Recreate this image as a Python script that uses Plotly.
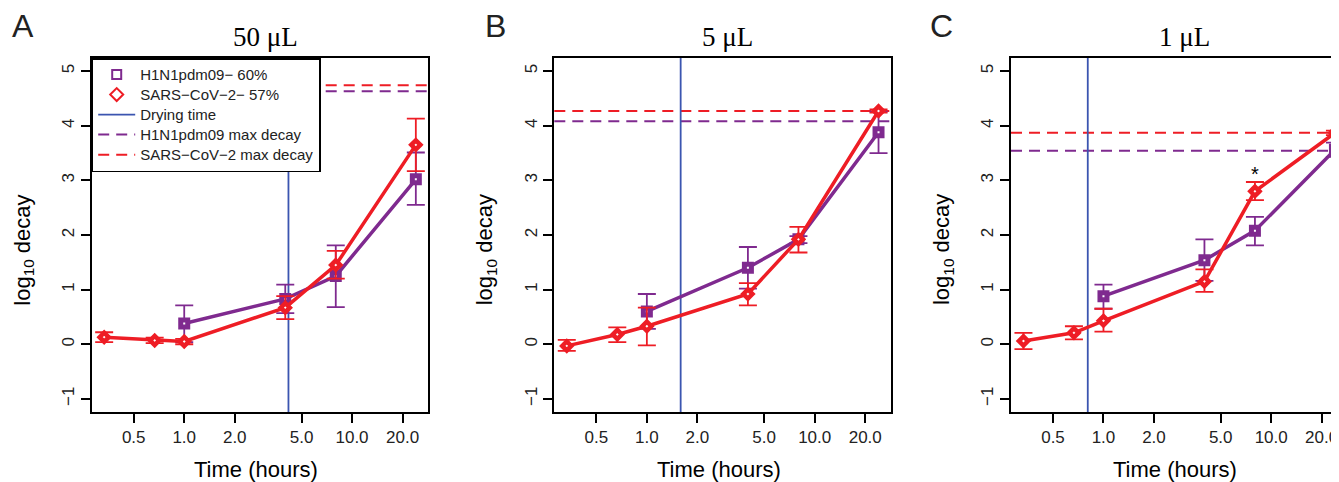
import numpy as np
import plotly.graph_objects as go
from plotly.subplots import make_subplots

# ---------------- data ----------------
panels = ["A", "B", "C"]
titles = ["50 μL", "5 μL", "1 μL"]

sars_t = [1/3, 2/3, 1.0, 4.0, 8.0, 24.0]
flu_t = [1.0, 4.0, 8.0, 24.0]

# SARS-CoV-2 (red) mean, upper, lower per panel
sars_A = [0.13, 0.07, 0.05, 0.67, 1.45, 3.65]
sars_A_hi = [0.22, 0.12, 0.10, 0.88, 1.71, 4.13]
sars_A_lo = [0.04, 0.02, 0.00, 0.46, 1.20, 3.17]
sars_B = [-0.03, 0.18, 0.33, 0.92, 1.92, 4.27]
sars_B_hi = [0.08, 0.31, 0.67, 1.12, 2.15, 4.30]
sars_B_lo = [-0.12, 0.04, -0.02, 0.71, 1.68, 4.24]
sars_C = [0.06, 0.21, 0.43, 1.15, 2.80, 3.87]
sars_C_hi = [0.21, 0.33, 0.65, 1.37, 2.97, 3.91]
sars_C_lo = [-0.09, 0.09, 0.23, 0.96, 2.64, 3.83]

# H1N1pdm09 (purple)
flu_A = [0.38, 0.83, 1.25, 3.02]
flu_A_hi = [0.71, 1.09, 1.81, 3.51]
flu_A_lo = [0.04, 0.57, 0.68, 2.55]
flu_B = [0.60, 1.40, 1.92, 3.88]
flu_B_hi = [0.92, 1.78, 1.98, 4.26]
flu_B_lo = [0.28, 1.02, 1.85, 3.50]
flu_C = [0.88, 1.54, 2.08, 3.56]
flu_C_hi = [1.09, 1.92, 2.33, 3.69]
flu_C_lo = [0.65, 1.16, 1.81, 3.43]

sars_max = [4.74, 4.27, 3.87]
flu_max = [4.63, 4.08, 3.54]
drying_time = [4.18, 1.59, 0.806]

star_t = 8.0
star_y = 3.12

legend_names = ["H1N1pdm09− 60%", "SARS−CoV−2− 57%", "Drying time",
                "H1N1pdm09 max decay", "SARS−CoV−2 max decay"]

x_tickvals = [0.5, 1, 2, 5, 10, 20]
x_ticktext = ["0.5", "1.0", "2.0", "5.0", "10.0", "20.0"]
y_tickvals = [-1, 0, 1, 2, 3, 4, 5]

sars_all = [(sars_A, sars_A_hi, sars_A_lo), (sars_B, sars_B_hi, sars_B_lo), (sars_C, sars_C_hi, sars_C_lo)]
flu_all = [(flu_A, flu_A_hi, flu_A_lo), (flu_B, flu_B_hi, flu_B_lo), (flu_C, flu_C_hi, flu_C_lo)]

# ---------------- style ----------------
OFF = 8  # page body margin offset of the plot div
WIN_W, WIN_H = 1339, 482
W, H = WIN_W - OFF, WIN_H - OFF
RED = "#EE1D25"
PURPLE = "#7F2A8F"
BLUE = "#3B55B0"
SANS = "Liberation Sans, Arial, sans-serif"
SERIF = "Liberation Serif, Times New Roman, serif"

# positions in window pixels, converted to figure pixels
top_px, bot_px = 58.3 - OFF, 411.7 - OFF
plot_h = bot_px - top_px
left_px = [91.7 - OFF, 554.3 - OFF, 1011.0 - OFF]
right_px = [428.3 - OFF, 891.0 - OFF, 1347.4 - OFF]

# R-style axis ranges (4% padding)
lx0, lx1 = np.log10(1/3), np.log10(24)
pad = 0.04 * (lx1 - lx0)
xr = [lx0 - pad, lx1 + pad]
yr = [-1 - 0.04 * 6, 5 + 0.04 * 6]

fig = make_subplots(rows=1, cols=3)

domains = []
for i in range(3):
    r = min(right_px[i], W)
    domains.append([left_px[i] / W, r / W])

for i in range(3):
    col = i + 1
    s, s_hi, s_lo = sars_all[i]
    f, f_hi, f_lo = flu_all[i]
    fig.add_trace(go.Scatter(
        x=flu_t, y=f, mode="lines+markers", showlegend=False,
        line=dict(color=PURPLE, width=3.5),
        marker=dict(symbol="square", size=7, color="white", line=dict(color=PURPLE, width=5)),
        error_y=dict(type="data", symmetric=False,
                     array=list(np.array(f_hi) - np.array(f)),
                     arrayminus=list(np.array(f) - np.array(f_lo)),
                     color=PURPLE, thickness=1.8, width=9),
        cliponaxis=True,
    ), row=1, col=col)
    fig.add_trace(go.Scatter(
        x=sars_t, y=s, mode="lines+markers", showlegend=False,
        line=dict(color=RED, width=3.5),
        marker=dict(symbol="diamond", size=7, color="white", line=dict(color=RED, width=4.5)),
        error_y=dict(type="data", symmetric=False,
                     array=list(np.array(s_hi) - np.array(s)),
                     arrayminus=list(np.array(s) - np.array(s_lo)),
                     color=RED, thickness=1.8, width=9),
        cliponaxis=True,
    ), row=1, col=col)


def lname(t):
    return f'<span style="font-size:15px">{t}</span>'


# legend-only entries (panel A)
fig.add_trace(go.Scatter(x=[None], y=[None], mode="markers", name=lname(legend_names[0]),
                         marker=dict(symbol="square-open", size=9, color=PURPLE, line=dict(width=2))), row=1, col=1)
fig.add_trace(go.Scatter(x=[None], y=[None], mode="markers", name=lname(legend_names[1]),
                         marker=dict(symbol="diamond-open", size=10, color=RED, line=dict(width=2))), row=1, col=1)
fig.add_trace(go.Scatter(x=[None], y=[None], mode="lines", name=lname(legend_names[2]),
                         line=dict(color=BLUE, width=1.8)), row=1, col=1)
fig.add_trace(go.Scatter(x=[None], y=[None], mode="lines", name=lname(legend_names[3]),
                         line=dict(color=PURPLE, width=2, dash="11px,7px")), row=1, col=1)
fig.add_trace(go.Scatter(x=[None], y=[None], mode="lines", name=lname(legend_names[4]),
                         line=dict(color=RED, width=2, dash="11px,7px")), row=1, col=1)

shapes = []
annotations = []
for i in range(3):
    xa = "x" if i == 0 else f"x{i+1}"
    ya = "y" if i == 0 else f"y{i+1}"
    xname = "xaxis" if i == 0 else f"xaxis{i+1}"
    yname = "yaxis" if i == 0 else f"yaxis{i+1}"
    this_xr = list(xr)
    if right_px[i] > W:
        px_per = (right_px[i] - left_px[i]) / (xr[1] - xr[0])
        this_xr[1] = xr[0] + (W - left_px[i]) / px_per
    fig.update_layout({
        xname: dict(domain=domains[i], type="log", range=this_xr,
                    tickvals=x_tickvals, ticktext=x_ticktext,
                    ticks="outside", ticklen=9, tickwidth=1.5, tickcolor="black",
                    showline=True, linecolor="black", linewidth=1.8, mirror=True,
                    showgrid=False, zeroline=False, ticklabeloverflow="allow",
                    tickfont=dict(family=SANS, size=17, color="#222")),
        yname: dict(range=yr, tickvals=y_tickvals, tickangle=-90,
                    ticks="outside", ticklen=9, tickwidth=1.5, tickcolor="black",
                    showline=True, linecolor="black", linewidth=1.8,
                    mirror=(right_px[i] <= W),
                    showgrid=False, zeroline=False,
                    tickfont=dict(family=SANS, size=17, color="#222")),
    })
    # max decay lines
    shapes.append(dict(type="line", xref=f"{xa} domain", yref=ya, x0=0, x1=1,
                       y0=flu_max[i], y1=flu_max[i], layer="below",
                       line=dict(color=PURPLE, width=2, dash="11px,7px")))
    shapes.append(dict(type="line", xref=f"{xa} domain", yref=ya, x0=0, x1=1,
                       y0=sars_max[i], y1=sars_max[i], layer="below",
                       line=dict(color=RED, width=2, dash="11px,7px")))
    # drying time
    shapes.append(dict(type="line", xref=xa, yref=f"{ya} domain",
                       x0=drying_time[i], x1=drying_time[i], y0=0, y1=1, layer="below",
                       line=dict(color=BLUE, width=1.8)))
    cx = (left_px[i] + right_px[i]) / 2 / W
    # panel title
    annotations.append(dict(text=titles[i], xref="paper", yref="paper",
                            x=cx + 5 / W, y=1 + (top_px - (37 - OFF)) / plot_h, xanchor="center", yanchor="middle",
                            showarrow=False, font=dict(family=SERIF, size=27, color="black")))
    # x title
    annotations.append(dict(text="Time (hours)", xref="paper", yref="paper",
                            x=cx - 4 / W, y=-((469 - OFF) - bot_px) / plot_h, xanchor="center", yanchor="middle",
                            showarrow=False, font=dict(family=SANS, size=22, color="black")))
    # y title
    annotations.append(dict(text="log<sub>10</sub> decay", xref="paper", yref="paper",
                            x=(left_px[i] - 68) / W, y=0.5 - 15 / plot_h, xanchor="center", yanchor="middle",
                            textangle=-90, showarrow=False,
                            font=dict(family=SANS, size=22, color="black")))

letter_x = [10 - OFF, 483 - OFF, 928 - OFF]
for i in range(3):
    annotations.append(dict(text=panels[i], xref="paper", yref="paper",
                            x=letter_x[i] / W, y=1 + (top_px - (26 - OFF)) / plot_h,
                            xanchor="left", yanchor="middle", showarrow=False,
                            font=dict(family=SANS, size=32, color="#222")))

# asterisk panel C
annotations.append(dict(text="*", xref="x3", yref="y3", x=np.log10(star_t), y=star_y,
                        showarrow=False, font=dict(family=SANS, size=20, color="black"),
                        xanchor="center", yanchor="middle"))

fig.update_layout(
    width=W, height=H,
    margin=dict(l=0, r=0, t=top_px, b=H - bot_px, pad=0),
    paper_bgcolor="white", plot_bgcolor="white",
    shapes=shapes, annotations=annotations,
    showlegend=True,
    legend=dict(x=left_px[0] / W, y=1, xanchor="left", yanchor="top",
                bgcolor="white", bordercolor="black", borderwidth=1.5,
                font=dict(family=SANS, size=13.1, color="#222"),
                tracegroupgap=0, itemwidth=37),
)

fig.write_html("out.html", post_script="document.body.style.overflow='hidden';")
